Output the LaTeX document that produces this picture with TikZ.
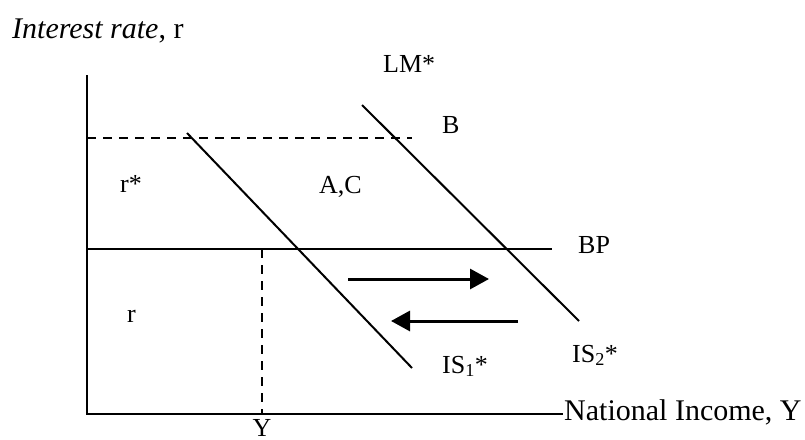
\documentclass[tikz,border=0pt]{standalone}
\usepackage{fontspec}
\setmainfont{Liberation Serif}
\usetikzlibrary{arrows.meta}
\tikzset{
  lbl/.style={inner sep=0pt, anchor=base west, font=\fontsize{26}{30}\selectfont},
  axlbl/.style={inner sep=0pt, anchor=base west, font=\fontsize{30}{34}\selectfont},
  curve/.style={line width=2pt},
  axis/.style={line width=2.4pt},
  guide/.style={line width=2pt, dash pattern=on 9pt off 7pt},
  flow/.style={line width=3pt, -{Triangle[length=19pt,width=20pt]}}
}
\begin{document}
\begin{tikzpicture}[x=1pt,y=-1pt]
\useasboundingbox (0,0) rectangle (805,439);
% labels
\node[axlbl] (ylab) at (12,38) {\textit{Interest rate}, r};
\node[lbl] (lm) at (383,72) {LM*};
\node[lbl] (b) at (442,133) {B};
\node[lbl] (rstar) at (120,192) {r*};
\node[lbl] (ac) at (319,193) {A,C};
\node[lbl] (bp) at (578,253) {BP};
\node[lbl] (r) at (127,322) {r};
\node[lbl] (is1) at (442,373) {IS\textsubscript{1}*};
\node[lbl] (is2) at (572,362) {IS\textsubscript{2}*};
\node[axlbl] (xlab) at (564,420) {National Income, Y};
\node[axlbl, anchor=base, font=\fontsize{26}{30}\selectfont] (ylabel) at (262,436) {Y};
% coordinates
\coordinate (top) at (87,75);
\coordinate (o) at (87,414);
\coordinate (xend) at (563,414);
\coordinate (d1) at (87,138);
\coordinate (d2) at (412,138);
\coordinate (bp1) at (87,249);
\coordinate (bp2) at (552,249);
\coordinate (v1) at (262,249);
\coordinate (v2) at (262,414);
\coordinate (is1a) at (187,133);
\coordinate (is1b) at (412,368);
\coordinate (is2a) at (362,105);
\coordinate (is2b) at (579,321);
\coordinate (ar1) at (348,279);
\coordinate (ar2) at (489,279);
\coordinate (al1) at (518,321);
\coordinate (al2) at (391,321);
% drawing
\draw[axis] (top) -- (o) -- (xend);
\draw[guide] (d1) -- (d2);
\draw[guide] (v1) -- (v2);
\draw[curve] (bp1) -- (bp2);
\draw[curve] (is1a) -- (is1b);
\draw[curve] (is2a) -- (is2b);
\draw[flow] (ar1) -- (ar2);
\draw[flow] (al1) -- (al2);
\end{tikzpicture}
\end{document}
